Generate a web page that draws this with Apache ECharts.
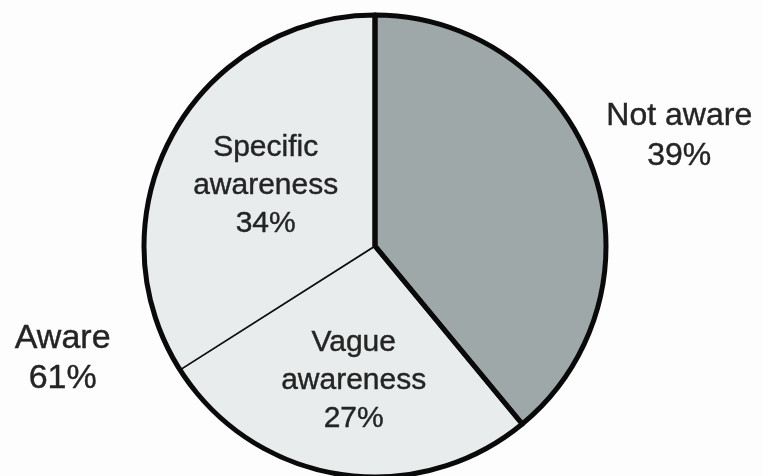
<!DOCTYPE html>
<html>
<head>
<meta charset="utf-8">
<style>
  html, body { margin: 0; padding: 0; background: #fdfdfd; }
  #chart { width: 763px; height: 476px; }
</style>
<script src="https://cdn.jsdelivr.net/npm/echarts@6/dist/echarts.min.js"></script>
</head>
<body>
<div id="chart"></div>
<script>
// Awareness breakdown (percent of respondents)
const detailNames = ['Not aware', 'Vague awareness', 'Specific awareness'];
const detailValues = [39, 27, 34];

// Two-way split: aware vs not aware
const groupNames = ['Not aware', 'Aware'];
const groupValues = [39, 61];

const CX = 375, CY = 246, R = 231;
const INK = '#242424';
const FONT = 'Liberation Sans, Arial, sans-serif';

// Mid-angle (clockwise from 12 o'clock) of each slice, from its values
function midAngles(values) {
  const total = values.reduce((a, b) => a + b, 0);
  let acc = 0;
  return values.map(v => {
    const mid = (acc + v / 2) / total * Math.PI * 2;
    acc += v;
    return mid;
  });
}
const detailMids = midAngles(detailValues);
const groupMids = midAngles(groupValues);

// label distance from the centre, as a fraction of the radius
const innerReach = [0.55, 0.59, 0.54];
const outerReach = [1.40, 1.437];

function placeAt(mid, reach) {
  return {
    x: CX + Math.sin(mid) * R * reach,
    y: CY - Math.cos(mid) * R * reach,
    align: 'center',
    verticalAlign: 'middle'
  };
}

const chart = echarts.init(document.getElementById('chart'), null, { renderer: 'canvas' });

chart.setOption({
  backgroundColor: '#fdfdfd',
  animation: false,
  series: [
    {
      // filled slices with thin dividers
      type: 'pie',
      center: [CX, CY],
      radius: [0, R],
      startAngle: 90,
      clockwise: true,
      silent: true,
      labelLine: { show: false },
      label: {
        show: true,
        position: 'inside',
        color: INK,
        fontFamily: FONT,
        fontSize: 30,
        lineHeight: 38,
        textBorderColor: INK,
        textBorderWidth: 0.4,
        formatter: p => p.name.replace(' ', '\n') + '\n' + p.value + '%'
      },
      labelLayout: p => placeAt(detailMids[p.dataIndex], innerReach[p.dataIndex]),
      itemStyle: { borderColor: '#111', borderWidth: 1.5 },
      data: detailNames.map((name, i) => ({
        name,
        value: detailValues[i],
        itemStyle: { color: i === 0 ? '#9fa8a8' : '#e8ecec' },
        label: { show: i !== 0 }
      }))
    },
    {
      // heavy outline around the aware / not-aware groups
      type: 'pie',
      center: [CX, CY],
      radius: [0, R],
      startAngle: 90,
      clockwise: true,
      silent: true,
      labelLine: { show: false },
      label: {
        show: true,
        position: 'outside',
        overflow: 'none',
        color: INK,
        fontFamily: FONT,
        lineHeight: 40,
        textBorderColor: INK,
        textBorderWidth: 0.4,
        formatter: p => p.name + '\n' + p.value + '%'
      },
      labelLayout: p => Object.assign(
        placeAt(groupMids[p.dataIndex], outerReach[p.dataIndex]),
        { width: 200 }
      ),
      itemStyle: { color: 'rgba(0,0,0,0)', borderColor: '#0a0a0a', borderWidth: 5 },
      data: groupNames.map((name, i) => ({
        name,
        value: groupValues[i],
        label: { fontSize: i === 0 ? 32 : 34 }
      }))
    }
  ]
});
</script>
</body>
</html>
